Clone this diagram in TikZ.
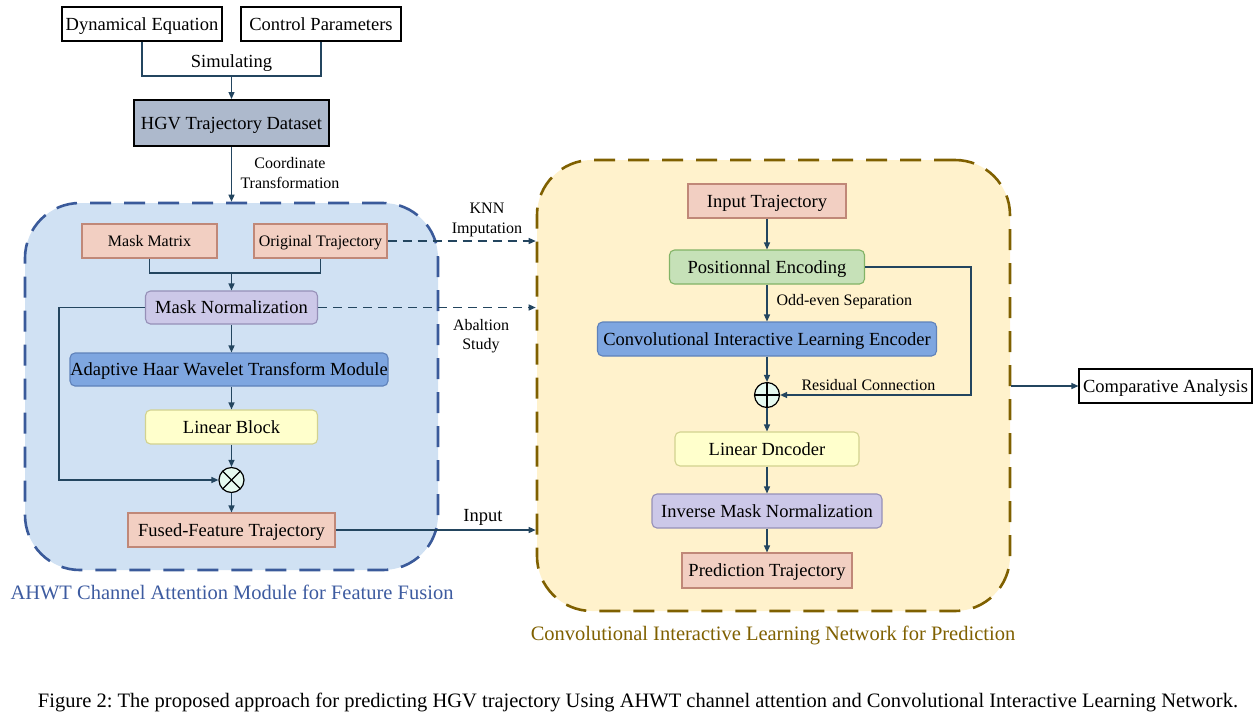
\documentclass[tikz,border=0pt]{standalone}
\usepackage{fontspec}
\setmainfont{Liberation Serif}
\usetikzlibrary{arrows.meta,calc}
\definecolor{conn}{HTML}{23455F}
\definecolor{pinkF}{HTML}{F2CFC2}
\definecolor{pinkD}{HTML}{C08878}
\definecolor{purF}{HTML}{CCC8E8}
\definecolor{purD}{HTML}{9690B8}
\definecolor{bluF}{HTML}{7EA6E0}
\definecolor{bluD}{HTML}{5F82BA}
\definecolor{yelF}{HTML}{FFFFCC}
\definecolor{yelD}{HTML}{D2D290}
\definecolor{grnF}{HTML}{C6E1B8}
\definecolor{grnD}{HTML}{82B366}
\definecolor{hgvF}{HTML}{ADB9CC}
\definecolor{regBF}{HTML}{D0E1F3}
\definecolor{regBD}{HTML}{3A5A9A}
\definecolor{regYF}{HTML}{FFF2CC}
\definecolor{regYD}{HTML}{7F6000}
\definecolor{titB}{HTML}{3D5BA0}
\definecolor{titY}{HTML}{7F6000}
\definecolor{opF}{HTML}{E6FAF0}
\frenchspacing
\begin{document}
\begin{tikzpicture}[x=1pt,y=-1pt,
  big/.style={font=\fontsize{18.5}{21}\selectfont},
  small/.style={font=\fontsize{16}{18}\selectfont},
  huge/.style={font=\fontsize{20.5}{24}\selectfont},
  box/.style={inner sep=0pt, line width=1.1pt, big, text height=12.6pt, text depth=0pt},
  sbox/.style={small, text height=10.2pt, text depth=0pt},
  plainbox/.style={box, draw=black, fill=white},
  hgvbox/.style={box, draw=black, fill=hgvF, line width=2pt},
  pinkbox/.style={box, draw=pinkD, fill=pinkF},
  purbox/.style={box, draw=purD, fill=purF, rounded corners=5pt},
  blubox/.style={box, draw=bluD, fill=bluF, rounded corners=5pt},
  yelbox/.style={box, draw=yelD, fill=yelF, rounded corners=5pt},
  grnbox/.style={box, draw=grnD, fill=grnF, rounded corners=5pt},
  region/.style={inner sep=0pt, line width=2.6pt, dash pattern=on 21pt off 13pt, rounded corners=55pt},
  conn/.style={draw=conn, line width=1.3pt},
  arr/.style={conn, -{Triangle[length=7pt,width=6pt]}},
  dasharr/.style={arr, dash pattern=on 9pt off 6pt},
  opnode/.style={circle, draw=black, fill=opF, line width=1.2pt, minimum size=25pt, inner sep=0pt},
  otimes/.style={opnode, path picture={
      \draw[black,line width=1.2pt] (path picture bounding box.north west) -- (path picture bounding box.south east);
      \draw[black,line width=1.2pt] (path picture bounding box.north east) -- (path picture bounding box.south west);}},
  oplus/.style={opnode, path picture={
      \draw[black,line width=1.2pt] (path picture bounding box.north) -- (path picture bounding box.south);
      \draw[black,line width=1.2pt] (path picture bounding box.west) -- (path picture bounding box.east);}}
]
\useasboundingbox (0,0) rectangle (1260,716);

% regions
\node[region, draw=regBD, fill=regBF, minimum width=413pt, minimum height=367pt] (blue) at (231.5,386.5) {};
\node[region, draw=regYD, fill=regYF, minimum width=473pt, minimum height=451pt] (yel) at (773.5,385.5) {};

% top
\node[plainbox, minimum width=160pt, minimum height=34pt] (dyn) at (142,24) {Dynamical Equation};
\node[plainbox, minimum width=160pt, minimum height=34pt] (ctrl) at (321,24) {Control Parameters};
\node[hgvbox, minimum width=195pt, minimum height=46pt] (hgv) at (231.5,123) {HGV Trajectory Dataset};
\coordinate (sim) at (231.5,76);
\draw[conn] (dyn.south) |- (sim) -| (ctrl.south);
\draw[arr] (sim) -- (hgv.north);
\node[big] (simlbl) at (231.5,63) {Simulating};
\draw[arr] (hgv.south) -- (blue.north);
\node[small, align=center, inner sep=0pt] (ctlbl) at (290,173) {Coordinate\\[1.5pt]Transformation};

% left module
\node[pinkbox, sbox, minimum width=135pt, minimum height=34pt] (mm) at (149.5,241) {Mask Matrix};
\node[pinkbox, sbox, minimum width=133pt, minimum height=34pt] (ot) at (320.5,241) {Original Trajectory};
\coordinate (mj) at (231.5,273);
\draw[conn] (mm.south) |- (mj) -| (ot.south);
\node[purbox, minimum width=172pt, minimum height=33pt] (mn) at (231.5,307.5) {Mask Normalization};
\draw[arr] (mj) -- (mn.north);
\node[blubox, minimum width=318pt, minimum height=33pt] (ahwt) at (229,369.5) {Adaptive Haar Wavelet Transform Module};
\draw[arr] (mn.south) -- (mn.south |- ahwt.north);
\node[yelbox, minimum width=172pt, minimum height=34pt] (lb) at (231.5,427) {Linear Block};
\draw[arr] (mn.south |- ahwt.south) -- (lb.north);
\node[otimes] (mul) at (231.5,480) {};
\draw[arr] (lb.south) -- (mul.north);
\coordinate (byp) at (59,480);
\draw[arr] (mn.west) -| (byp) -- (mul.west);
\node[pinkbox, minimum width=207pt, minimum height=34pt] (fused) at (231.5,530) {Fused-Feature Trajectory};
\draw[arr] (mul.south) -- (fused.north);
\node[huge, text=titB] (btitle) at (232,592) {AHWT Channel Attention Module for Feature Fusion};

% cross connections
\draw[dasharr] (ot.east) -- (ot.east -| yel.west);
\node[small, align=center, inner sep=0pt] (knn) at (487,220) {KNN\\[1.5pt]Imputation};
\draw[dasharr] (mn.east) -- (mn.east -| yel.west);
\node[small, align=center, inner sep=0pt] (abl) at (481,336) {Abaltion\\[1.5pt]Study};
\draw[arr] (fused.east) -- (fused.east -| yel.west);
\node[big] (inlbl) at (483,517) {Input};

% right module
\node[pinkbox, minimum width=158pt, minimum height=34pt] (it) at (767,201) {Input Trajectory};
\node[grnbox, minimum width=195pt, minimum height=34pt] (pe) at (767,267) {Positionnal Encoding};
\draw[arr] (it.south) -- (pe.north);
\node[blubox, minimum width=339pt, minimum height=34pt] (cil) at (767,339) {Convolutional Interactive Learning Encoder};
\draw[arr] (pe.south) -- (cil.north);
\node[small, anchor=west] (oddlbl) at (773,302) {Odd-even Separation};
\node[oplus] (add) at (767,395) {};
\draw[arr] (cil.south) -- (add.north);
\coordinate (res) at (971,395);
\draw[arr] (pe.east) -| (res) -- (add.east);
\node[small, anchor=west] (reslbl) at (798,385) {Residual Connection};
\node[yelbox, minimum width=184pt, minimum height=34pt] (ld) at (767,449) {Linear Dncoder};
\draw[arr] (add.south) -- (ld.north);
\node[purbox, minimum width=230pt, minimum height=34pt] (imn) at (767,511) {Inverse Mask Normalization};
\draw[arr] (ld.south) -- (imn.north);
\node[pinkbox, minimum width=170pt, minimum height=35pt] (pt) at (767,570.5) {Prediction Trajectory};
\draw[arr] (imn.south) -- (pt.north);
\node[huge, text=titY] (ytitle) at (773,635) {Convolutional Interactive Learning Network for Prediction};

% comparative
\node[plainbox, minimum width=173pt, minimum height=34pt] (ca) at (1165.5,386) {Comparative Analysis};
\draw[arr] (ca.west -| yel.east) -- (ca.west);

% caption
\node[huge] (cap) at (638,702) {Figure 2: The proposed approach for predicting HGV trajectory Using AHWT channel attention and Convolutional Interactive Learning Network.};
\end{tikzpicture}
\end{document}
